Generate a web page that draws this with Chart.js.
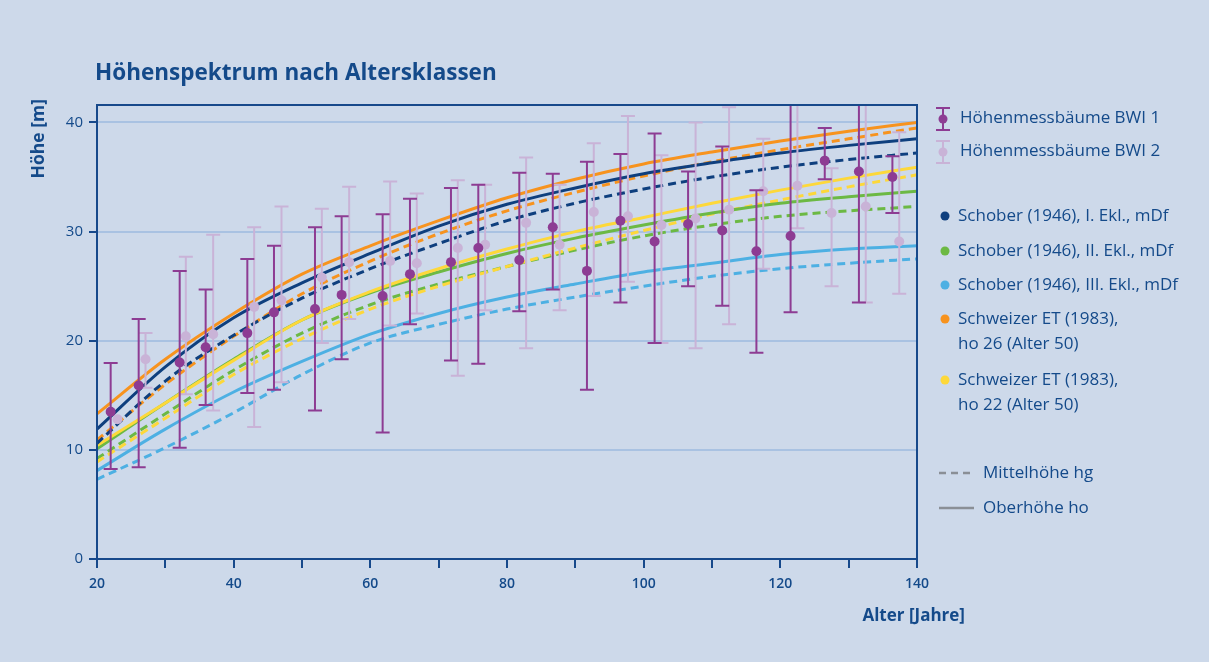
<!DOCTYPE html>
<html>
<head>
<meta charset="utf-8">
<script src="https://cdn.jsdelivr.net/npm/chart.js@4/dist/chart.umd.min.js"></script>
<style>
  html, body { margin: 0; padding: 0; background: #cdd9ea; }
  canvas { display: block; }
</style>
</head>
<body>
<canvas id="chart" width="1209" height="662"></canvas>
<script>
// Ertragstafel-Kurven (Alter in Jahren, Höhe in m)
const ages = [20, 30, 40, 50, 60, 70, 80, 90, 100, 110, 120, 130, 140];
const schober1Ho = [11.9, 17.6, 22.1, 25.3, 28.0, 30.5, 32.5, 34.0, 35.3, 36.3, 37.2, 37.9, 38.5];
const schober1Hg = [10.6, 16.3, 20.5, 23.9, 26.6, 28.9, 31.0, 32.6, 33.9, 35.0, 35.9, 36.6, 37.2];
const schober2Ho = [10.1, 14.3, 18.3, 21.9, 24.4, 26.3, 28.0, 29.4, 30.6, 31.7, 32.6, 33.2, 33.7];
const schober2Hg = [9.2, 13.3, 17.3, 20.7, 23.3, 25.2, 26.8, 28.3, 29.6, 30.6, 31.4, 31.9, 32.3];
const schober3Ho = [8.1, 11.9, 15.3, 18.1, 20.6, 22.5, 24.0, 25.2, 26.3, 27.1, 27.9, 28.4, 28.7];
const schober3Hg = [7.3, 10.2, 13.4, 16.9, 19.8, 21.5, 22.9, 24.0, 25.0, 25.9, 26.6, 27.1, 27.5];
const schweizer26Ho = [13.3, 18.3, 22.5, 26.1, 28.7, 31.0, 33.1, 34.8, 36.2, 37.3, 38.3, 39.2, 40.0];
const schweizer26Hg = [10.9, 16.0, 20.4, 24.3, 27.3, 29.8, 31.9, 33.6, 35.1, 36.4, 37.5, 38.5, 39.5];
const schweizer22Ho = [10.4, 14.3, 18.2, 21.9, 24.5, 26.6, 28.4, 30.0, 31.3, 32.6, 33.8, 34.9, 35.9];
const schweizer22Hg = [8.9, 12.9, 16.9, 20.2, 22.9, 25.0, 26.8, 28.5, 30.1, 31.6, 32.9, 34.1, 35.2];

// Höhenmessbäume BWI 1
const bwi1Age = [22, 26.1, 32.1, 35.9, 42, 45.9, 51.9, 55.8, 61.8, 65.8, 71.8, 75.8, 81.8, 86.7, 91.7, 96.6, 101.6, 106.5, 111.5, 116.5, 121.5, 126.5, 131.5, 136.4];
const bwi1Mean = [13.5, 15.9, 18.0, 19.4, 20.7, 22.6, 22.9, 24.2, 24.1, 26.1, 27.2, 28.5, 27.4, 30.4, 26.4, 31.0, 29.1, 30.7, 30.1, 28.2, 29.6, 36.5, 35.5, 35.0];
const bwi1Min = [8.25, 8.4, 10.2, 14.1, 15.2, 15.5, 13.6, 18.3, 11.6, 21.5, 18.2, 17.9, 22.7, 24.7, 15.5, 23.5, 19.8, 25.0, 23.2, 18.9, 22.6, 34.8, 23.5, 31.7];
const bwi1Max = [17.95, 22.0, 26.4, 24.7, 27.5, 28.7, 30.4, 31.4, 31.6, 33.0, 34.0, 34.3, 35.4, 35.3, 36.4, 37.1, 39.0, 35.5, 37.8, 33.8, 44, 39.5, 44, 36.9];

// Höhenmessbäume BWI 2
const bwi2Age = [23, 27.1, 33, 37, 43, 47, 52.9, 56.9, 62.9, 66.8, 72.8, 76.8, 82.8, 87.7, 92.7, 97.7, 102.6, 107.6, 112.5, 117.5, 122.5, 127.5, 132.5, 137.4];
const bwi2Mean = [12.8, 18.3, 20.4, 20.6, 23.1, 23.7, 25.8, 27.2, 27.3, 27.1, 28.5, 28.8, 30.8, 28.8, 31.8, 31.4, 30.6, 31.2, 32.0, 33.7, 34.2, 31.7, 32.3, 29.1];
const bwi2Min = [12.8, 15.7, 15.1, 13.6, 12.1, 16.2, 19.8, 22.0, 21.4, 22.5, 16.8, 22.8, 19.3, 22.8, 24.1, 25.4, 19.8, 19.3, 21.5, 26.6, 30.3, 25.0, 23.5, 24.3];
const bwi2Max = [12.8, 20.7, 27.7, 29.7, 30.4, 32.3, 32.1, 34.1, 34.6, 33.5, 34.7, 34.3, 36.8, 34.3, 38.1, 40.6, 37.0, 40.0, 41.4, 38.5, 44, 35.8, 44, 39.1];

const yTicks = [0, 10, 20, 30, 40];
const xTicks = [20, 40, 60, 80, 100, 120, 140];

const NAVY = '#0e3f7e', GREEN = '#6cb944', LBLUE = '#4db0e3', ORANGE = '#f7931e', YELLOW = '#fdd83a';
const BWI1 = '#8d3c93', BWI2 = '#c9b3d7';
const TEXT = '#144a8a', AXIS = '#17498b';

function curve(values, color, dashed, order) {
  return {
    type: 'line',
    data: ages.map((a, i) => ({ x: a, y: values[i] })),
    borderColor: color,
    borderWidth: 3,
    borderDash: dashed ? [8, 5] : [],
    pointRadius: 0,
    cubicInterpolationMode: 'monotone',
    fill: false,
    order: order
  };
}

function points(xs, ys, mins, maxs, color, order) {
  return {
    type: 'scatter',
    data: xs.map((a, i) => ({ x: a, y: ys[i] })),
    errMin: mins,
    errMax: maxs,
    backgroundColor: color,
    borderColor: color,
    borderWidth: 0,
    pointRadius: 5,
    order: order
  };
}

const errorBars = {
  id: 'errorBars',
  beforeDatasetDraw(chart, args) {
    const ds = chart.data.datasets[args.index];
    if (!ds.errMin) return;
    const { ctx, chartArea: a, scales: { x, y } } = chart;
    ctx.save();
    ctx.beginPath();
    ctx.rect(a.left, a.top, a.right - a.left, a.bottom - a.top);
    ctx.clip();
    ctx.strokeStyle = ds.borderColor;
    ctx.lineWidth = 2;
    ds.data.forEach((p, i) => {
      const px = x.getPixelForValue(p.x);
      const y0 = y.getPixelForValue(ds.errMin[i]);
      const y1 = y.getPixelForValue(ds.errMax[i]);
      if (y0 === y1) return;
      ctx.beginPath();
      ctx.moveTo(px, y0); ctx.lineTo(px, y1);
      ctx.moveTo(px - 7, y0); ctx.lineTo(px + 7, y0);
      ctx.moveTo(px - 7, y1); ctx.lineTo(px + 7, y1);
      ctx.stroke();
    });
    ctx.restore();
  }
};

const frame = {
  id: 'frame',
  afterDatasetsDraw(chart) {
    const { ctx, chartArea: a } = chart;
    ctx.save();
    ctx.strokeStyle = AXIS;
    ctx.lineWidth = 2;
    ctx.strokeRect(a.left, a.top, a.right - a.left, a.bottom - a.top);
    ctx.restore();
  }
};

const texts = {
  id: 'texts',
  afterDraw(chart) {
    const { ctx, chartArea: a } = chart;
    ctx.save();
    ctx.fillStyle = TEXT;
    ctx.textBaseline = 'middle';

    ctx.font = 'bold 22.5px "Open Sans"';
    ctx.fillText('Höhenspektrum nach Altersklassen', 95, 74);

    ctx.save();
    ctx.translate(39, a.top - 6);
    ctx.rotate(-Math.PI / 2);
    ctx.textAlign = 'right';
    ctx.font = 'bold 17.5px "Open Sans"';
    ctx.fillText('Höhe [m]', 0, 0);
    ctx.restore();

    ctx.textAlign = 'right';
    ctx.font = 'bold 17px "Open Sans"';
    ctx.fillText('Alter [Jahre]', 965, 616);

    // Legende
    ctx.textAlign = 'left';
    ctx.font = '17px "Open Sans"';
    const eb = (cy, color) => {
      ctx.strokeStyle = color;
      ctx.fillStyle = color;
      ctx.lineWidth = 2;
      ctx.beginPath();
      ctx.moveTo(943, cy - 10); ctx.lineTo(943, cy + 12);
      ctx.moveTo(936, cy - 10); ctx.lineTo(950, cy - 10);
      ctx.moveTo(936, cy + 12); ctx.lineTo(950, cy + 12);
      ctx.stroke();
      ctx.beginPath();
      ctx.arc(943, cy + 1, 4.5, 0, Math.PI * 2);
      ctx.fill();
    };
    eb(118, BWI1);
    eb(151, BWI2);
    ctx.fillStyle = TEXT;
    ctx.fillText('Höhenmessbäume BWI 1', 960, 118);
    ctx.fillText('Höhenmessbäume BWI 2', 960, 151);

    const dots = [
      [216, NAVY, ['Schober (1946), I. Ekl., mDf']],
      [251, GREEN, ['Schober (1946), II. Ekl., mDf']],
      [285, LBLUE, ['Schober (1946), III. Ekl., mDf']],
      [319, ORANGE, ['Schweizer ET (1983),', 'ho 26 (Alter 50)']],
      [380, YELLOW, ['Schweizer ET (1983),', 'ho 22 (Alter 50)']]
    ];
    dots.forEach(([cy, color, lines]) => {
      ctx.fillStyle = color;
      ctx.beginPath();
      ctx.arc(945, cy, 4.5, 0, Math.PI * 2);
      ctx.fill();
      ctx.fillStyle = TEXT;
      lines.forEach((t, i) => ctx.fillText(t, 958, cy + i * 25));
    });

    ctx.strokeStyle = '#8a8f96';
    ctx.lineWidth = 2.5;
    ctx.setLineDash([7, 5]);
    ctx.beginPath(); ctx.moveTo(939, 473); ctx.lineTo(974, 473); ctx.stroke();
    ctx.setLineDash([]);
    ctx.beginPath(); ctx.moveTo(939, 508); ctx.lineTo(974, 508); ctx.stroke();
    ctx.fillText('Mittelhöhe hg', 983, 473);
    ctx.fillText('Oberhöhe ho', 983, 508);
    ctx.restore();
  }
};

new Chart(document.getElementById('chart'), {
  data: {
    datasets: [
      points(bwi1Age, bwi1Mean, bwi1Min, bwi1Max, BWI1, 0),
      points(bwi2Age, bwi2Mean, bwi2Min, bwi2Max, BWI2, 1),
      curve(schober1Ho, NAVY, false, 2),
      curve(schweizer26Ho, ORANGE, false, 3),
      curve(schober1Hg, NAVY, true, 4),
      curve(schweizer26Hg, ORANGE, true, 5),
      curve(schweizer22Ho, YELLOW, false, 6),
      curve(schober2Ho, GREEN, false, 7),
      curve(schweizer22Hg, YELLOW, true, 8),
      curve(schober2Hg, GREEN, true, 9),
      curve(schober3Ho, LBLUE, false, 10),
      curve(schober3Hg, LBLUE, true, 11)
    ]
  },
  options: {
    responsive: false,
    animation: false,
    devicePixelRatio: 1,
    layout: { padding: { left: 0, top: 105, right: 292, bottom: 63 } },
    plugins: { legend: { display: false }, tooltip: { enabled: false } },
    scales: {
      x: {
        type: 'linear',
        min: 20,
        max: 140,
        afterFit: s => { s.height = 40; },
        afterBuildTicks: s => { s.ticks = [20, 30, 40, 50, 60, 70, 80, 90, 100, 110, 120, 130, 140].map(v => ({ value: v })); },
        grid: { drawOnChartArea: false, drawTicks: true, tickLength: 9, tickColor: AXIS, lineWidth: 2 },
        border: { color: AXIS, width: 2 },
        ticks: {
          color: TEXT,
          padding: 8,
          font: { family: '"Open Sans"', size: 14, weight: '600' },
          callback: v => xTicks.includes(v) ? String(v) : ''
        }
      },
      y: {
        min: 0,
        max: 41.6,
        afterFit: s => { s.width = 97; },
        afterBuildTicks: s => { s.ticks = yTicks.map(v => ({ value: v })); },
        grid: { color: '#a9c2e2', lineWidth: 2, tickColor: AXIS, tickLength: 8 },
        border: { color: AXIS, width: 2 },
        ticks: {
          color: TEXT,
          padding: 6,
          font: { family: '"Open Sans"', size: 15 }
        }
      }
    }
  },
  plugins: [errorBars, frame, texts]
});
</script>
</body>
</html>
